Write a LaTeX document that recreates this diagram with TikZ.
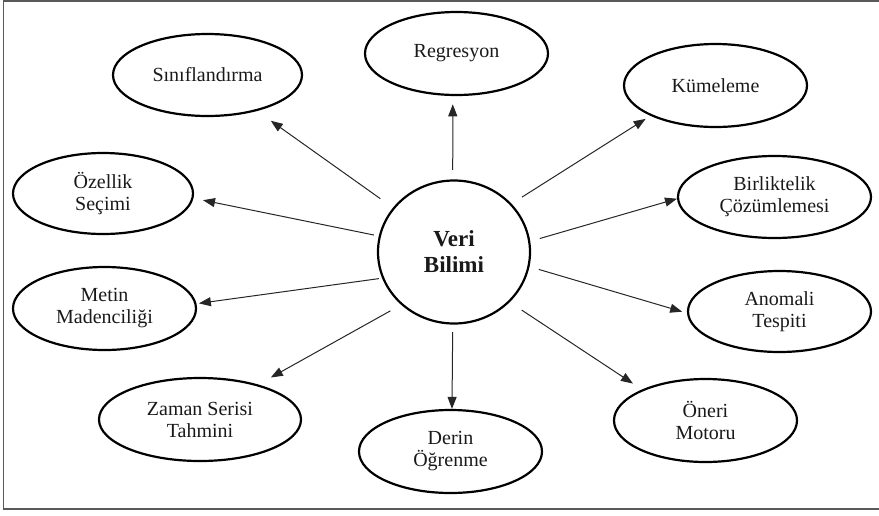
\documentclass[tikz,border=0pt]{standalone}
\usepackage{fontspec}
\setmainfont{Liberation Serif}
\usetikzlibrary{shapes.geometric,arrows.meta}
\begin{document}
\begin{tikzpicture}[x=1pt,y=-1pt,
  topic/.style={ellipse, draw=black, line width=2.2pt, inner sep=0pt, align=center,
    text=black!90, font=\fontsize{20}{22}\selectfont},
  hub/.style={ellipse, draw=black, line width=2.2pt, inner sep=0pt, align=center,
    text=black!90, font=\fontsize{23}{26}\selectfont\bfseries},
  link/.style={line width=1pt, draw=black!85, -{Triangle[length=12pt,width=9pt]}}
]
\clip (0,0) rectangle (879,515);
% outer frame
\draw[line width=1.5pt, black!65] (3.5,1) rectangle (900,509);

% central topic
\node[hub, minimum width=152pt, minimum height=143pt] (vb) at (454,252) {Veri\\Bilimi};

% surrounding topics
\node[topic, minimum width=189pt, minimum height=82pt] (sin) at (207.5,75) {Sınıflandırma};
\node[topic, minimum width=183pt, minimum height=83pt] (reg) at (456.5,53.5) {Regresyon};
\node[topic, minimum width=183pt, minimum height=83pt] (kum) at (715.5,85.5) {Kümeleme};
\node[topic, minimum width=180pt, minimum height=81pt] (oz) at (103,193.5) {Özellik\\Seçimi};
\node[topic, minimum width=183pt, minimum height=83pt] (met) at (104.5,308.5) {Metin\\Madenciliği};
\node[topic, minimum width=202pt, minimum height=83pt] (zam) at (200,419.5) {Zaman Serisi\\Tahmini};
\node[topic, minimum width=183pt, minimum height=83pt] (der) at (450.5,451.5) {Derin\\Öğrenme};
\node[topic, minimum width=183pt, minimum height=83pt] (one) at (705.5,420.5) {Öneri\\Motoru};
\node[topic, minimum width=193pt, minimum height=82pt] (bir) at (774.5,197) {Birliktelik\\Çözümlemesi};
\node[topic, minimum width=183pt, minimum height=81pt] (ano) at (779.5,311.5) {Anomali\\Tespiti};

% connectors from the centre outwards
\draw[link, shorten <=15.5pt, shorten >=16.8pt] (vb.144) -- (sin.-36);
\draw[link, shorten <=9.5pt, shorten >=8.2pt] (vb.91) -- (reg.-95);
\draw[link, shorten <=12.3pt, shorten >=5.7pt] (vb.40) -- (kum.-155);
\draw[link, shorten <=5pt, shorten >=9.7pt] (vb.168) -- (oz.-3);
\draw[link, shorten <=3.3pt, shorten >=2.4pt] (vb.-160) -- (met.3);
\draw[link, shorten <=12.3pt, shorten >=14.4pt] (vb.-135) -- (zam.31);
\draw[link, shorten <=7.5pt, shorten >=0pt] (vb.-91) -- (der.88);
\draw[link, shorten <=14.3pt, shorten >=10.8pt] (vb.-42) -- (one.154);
\draw[link, shorten <=9.7pt, shorten >=5pt] (vb.-11) -- (ano.181);
\draw[link, shorten <=9.9pt, shorten >=0pt] (vb.8) -- (bir.181);
\end{tikzpicture}
\end{document}
